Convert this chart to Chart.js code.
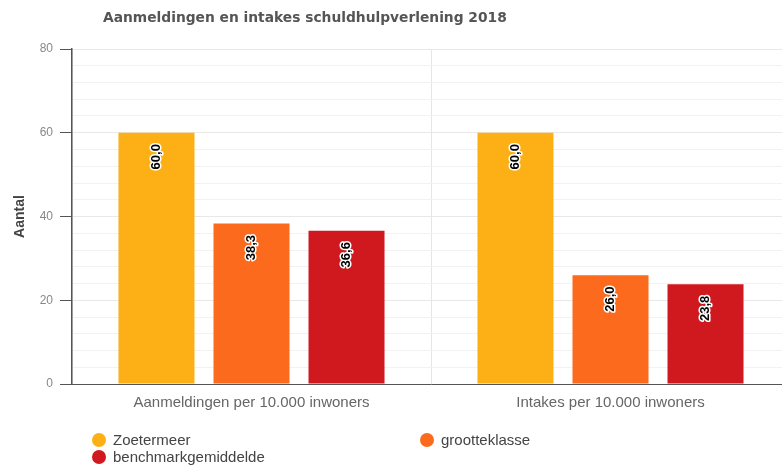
<!DOCTYPE html>
<html>
<head>
<meta charset="utf-8">
<script src="https://cdn.jsdelivr.net/npm/chart.js@4"></script>
<style>
  html, body { margin: 0; padding: 0; background: #fff; overflow: hidden; }
  #wrap { width: 800px; height: 465px; }
</style>
</head>
<body>
<div id="wrap"><canvas id="c" width="800" height="465"></canvas></div>
<script>
const titleText = 'Aanmeldingen en intakes schuldhulpverlening 2018';
const yAxisTitle = 'Aantal';
const categories = ['Aanmeldingen per 10.000 inwoners', 'Intakes per 10.000 inwoners'];
const seriesNames = ['Zoetermeer', 'grootteklasse', 'benchmarkgemiddelde'];
const zoetermeer = [60.0, 60.0];
const grootteklasse = [38.3, 26.0];
const benchmarkgemiddelde = [36.6, 23.8];
const yTickLabels = [0, 20, 40, 60, 80];
const seriesColors = ['#FCB016', '#FB6A1D', '#D0181F'];

const seriesValues = [zoetermeer, grootteklasse, benchmarkgemiddelde];

const fmt = v => v.toFixed(1).replace('.', ',');

const labelPlugin = {
  id: 'valueLabels',
  afterDatasetsDraw(chart) {
    const ctx = chart.ctx;
    chart.data.datasets.forEach((ds, i) => {
      const meta = chart.getDatasetMeta(i);
      meta.data.forEach((bar, j) => {
        ctx.save();
        ctx.translate(bar.x, bar.y + 24);
        ctx.rotate(-Math.PI / 2);
        ctx.font = 'bold 13px "Liberation Sans", Arial, sans-serif';
        ctx.textAlign = 'center';
        ctx.textBaseline = 'middle';
        ctx.lineJoin = 'round';
        ctx.lineWidth = 3;
        ctx.strokeStyle = '#ffffff';
        const t = fmt(ds.data[j]);
        ctx.strokeText(t, 0, 0);
        ctx.fillStyle = '#000000';
        ctx.fillText(t, 0, 0);
        ctx.restore();
      });
    });
  }
};

const decorPlugin = {
  id: 'decor',
  afterDraw(chart) {
    const ctx = chart.ctx;
    ctx.save();
    // title
    ctx.font = 'bold 13.8px "DejaVu Sans", sans-serif';
    ctx.fillStyle = '#555555';
    ctx.textAlign = 'left';
    ctx.textBaseline = 'middle';
    ctx.fillText(titleText, 103, 18);
    // legend
    const pos = [[99, 440], [427, 440], [99, 457]];
    ctx.font = '15px "Liberation Sans", Arial, sans-serif';
    chart.data.datasets.forEach((ds, i) => {
      const [x, y] = pos[i];
      ctx.beginPath();
      ctx.arc(x, y, 7, 0, Math.PI * 2);
      ctx.fillStyle = ds.backgroundColor;
      ctx.fill();
      ctx.fillStyle = '#444444';
      ctx.fillText(ds.label, x + 14, y + 1);
    });
    ctx.restore();
  }
};

new Chart(document.getElementById('c'), {
  type: 'bar',
  data: {
    labels: categories,
    datasets: seriesNames.map((n, i) => ({
      label: n,
      data: seriesValues[i],
      backgroundColor: seriesColors[i],
      borderWidth: 0,
      barPercentage: 0.8,
      categoryPercentage: 0.794
    }))
  },
  options: {
    responsive: false,
    animation: false,
    layout: { padding: { top: 49, right: 10, bottom: 0, left: 0 } },
    plugins: {
      legend: { display: false },
      title: { display: false },
      tooltip: { enabled: false }
    },
    scales: {
      x: {
        grid: { color: '#e6e6e6', offset: true, drawTicks: false },
        border: { color: '#555555', width: 1 },
        ticks: {
          color: '#666666',
          padding: 10,
          font: { size: 15, family: '"Liberation Sans", Arial, sans-serif' }
        },
        afterFit(scale) { scale.height = 81; }
      },
      y: {
        min: 0,
        max: 80,
        ticks: {
          stepSize: 4,
          autoSkip: false,
          padding: 7,
          color: '#888888',
          font: { size: 12, family: '"Liberation Sans", Arial, sans-serif' },
          callback: v => yTickLabels.includes(v) ? String(v) : ''
        },
        grid: {
          color: c => (c.tick && yTickLabels.includes(c.tick.value)) ? '#e8e8e8' : '#f2f2f2',
          tickColor: c => (c.tick && yTickLabels.includes(c.tick.value)) ? '#555555' : 'rgba(0,0,0,0)',
          tickLength: 12
        },
        border: { color: '#555555', width: 1.5 },
        title: {
          display: true,
          text: yAxisTitle,
          color: '#444444',
          font: { size: 14, weight: 'bold', family: '"Liberation Sans", Arial, sans-serif' },
          padding: { top: 12, bottom: 0 }
        },
        afterFit(scale) { scale.width = 72; }
      }
    }
  },
  plugins: [labelPlugin, decorPlugin]
});
</script>
</body>
</html>
